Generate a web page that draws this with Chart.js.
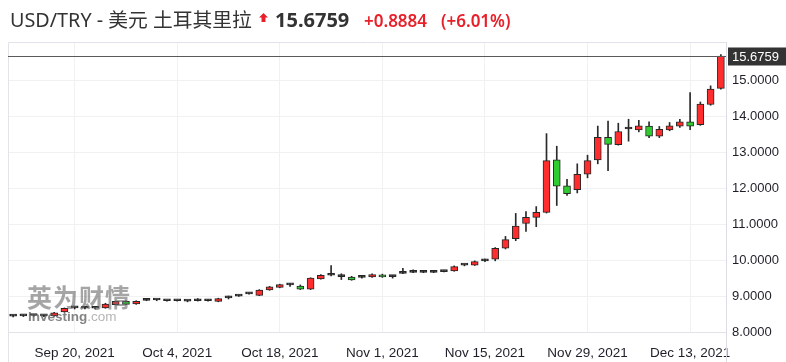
<!DOCTYPE html>
<html>
<head>
<meta charset="utf-8">
<script src="https://cdn.jsdelivr.net/npm/chart.js@4.4.0/dist/chart.umd.min.js"></script>
<style>
  body { margin: 0; background: #fff; }
  #wrap { position: relative; width: 786px; height: 362px; overflow: hidden; }
  #chart { position: absolute; left: 0; top: 0; }
  .hd { position: absolute; white-space: nowrap; font-family: "Noto Sans", "Noto Sans CJK SC", sans-serif; line-height: 1; }
  #title { left: 10px; top: 10px; font-size: 19.8px; color: #333; }
  #arrow { position: absolute; left: 259px; top: 13px; width: 9px; height: 9px; background: #e8202a;
           clip-path: polygon(50% 0, 100% 50%, 72% 50%, 72% 100%, 28% 100%, 28% 50%, 0 50%); }
  #last { left: 275px; top: 10px; font-size: 20px; font-weight: bold; color: #333; }
  #chg { left: 364px; top: 12px; font-size: 17px; font-weight: 600; color: #e8202a; }
  #pct { left: 441px; top: 12px; font-size: 17px; font-weight: 600; color: #e8202a; }
  #wm1 { left: 27px; top: 284px; font-size: 25px; font-weight: bold; letter-spacing: 1px; color: rgba(105,105,105,0.6); font-family: "Noto Sans CJK SC", sans-serif; }
  #wm2 { left: 28px; top: 310px; font-size: 13.5px; font-weight: bold; color: rgba(90,90,90,0.75); font-family: "Liberation Sans", sans-serif; }
  #wm2 span { font-weight: normal; color: rgba(150,150,150,0.7); }
</style>
</head>
<body>
<div id="wrap">
  <canvas id="chart" width="786" height="362"></canvas>
  <div class="hd" id="title">USD/TRY - 美元 土耳其里拉</div>
  <div id="arrow"></div>
  <div class="hd" id="last">15.6759</div>
  <div class="hd" id="chg">+0.8884</div>
  <div class="hd" id="pct">(+6.01%)</div>
  <div class="hd" id="wm1">英为财情</div>
  <div class="hd" id="wm2">Investing<span>.com</span></div>
</div>
<script>
// daily candles, Sep 10 - Dec 16 2021
const dates = [
  'Sep 10, 2021',
  'Sep 13, 2021', 'Sep 14, 2021', 'Sep 15, 2021', 'Sep 16, 2021', 'Sep 17, 2021',
  'Sep 20, 2021', 'Sep 21, 2021', 'Sep 22, 2021', 'Sep 23, 2021', 'Sep 24, 2021',
  'Sep 27, 2021', 'Sep 28, 2021', 'Sep 29, 2021', 'Sep 30, 2021', 'Oct 1, 2021',
  'Oct 4, 2021', 'Oct 5, 2021', 'Oct 6, 2021', 'Oct 7, 2021', 'Oct 8, 2021',
  'Oct 11, 2021', 'Oct 12, 2021', 'Oct 13, 2021', 'Oct 14, 2021', 'Oct 15, 2021',
  'Oct 18, 2021', 'Oct 19, 2021', 'Oct 20, 2021', 'Oct 21, 2021', 'Oct 22, 2021',
  'Oct 25, 2021', 'Oct 26, 2021', 'Oct 27, 2021', 'Oct 28, 2021', 'Oct 29, 2021',
  'Nov 1, 2021', 'Nov 2, 2021', 'Nov 3, 2021', 'Nov 4, 2021', 'Nov 5, 2021',
  'Nov 8, 2021', 'Nov 9, 2021', 'Nov 10, 2021', 'Nov 11, 2021', 'Nov 12, 2021',
  'Nov 15, 2021', 'Nov 16, 2021', 'Nov 17, 2021', 'Nov 18, 2021', 'Nov 19, 2021',
  'Nov 22, 2021', 'Nov 23, 2021', 'Nov 24, 2021', 'Nov 25, 2021', 'Nov 26, 2021',
  'Nov 29, 2021', 'Nov 30, 2021', 'Dec 1, 2021', 'Dec 2, 2021', 'Dec 3, 2021',
  'Dec 6, 2021', 'Dec 7, 2021', 'Dec 8, 2021', 'Dec 9, 2021', 'Dec 10, 2021',
  'Dec 13, 2021', 'Dec 14, 2021', 'Dec 15, 2021', 'Dec 16, 2021'
];
const opens = [
  8.44,
  8.45, 8.46, 8.45, 8.45, 8.56,
  8.67, 8.66, 8.66, 8.67, 8.76,
  8.85, 8.78, 8.88, 8.89, 8.87,
  8.87, 8.86, 8.87, 8.87, 8.85,
  8.95, 9.00, 9.06, 9.02, 9.17,
  9.24, 9.31, 9.28, 9.19, 9.48,
  9.58, 9.54, 9.53, 9.52, 9.53,
  9.59, 9.54, 9.63, 9.66, 9.66,
  9.66, 9.68, 9.70, 9.86, 9.86,
  9.98, 10.03, 10.33, 10.60, 11.02,
  11.19, 11.33, 12.79, 12.07, 11.96,
  12.39, 12.79, 13.42, 13.21, 13.65,
  13.62, 13.73, 13.45, 13.62, 13.73,
  13.85, 13.77, 14.33, 14.78
];
const highs = [
  8.47,
  8.48, 8.48, 8.47, 8.55, 8.67,
  8.70, 8.69, 8.69, 8.80, 8.86,
  8.87, 8.87, 8.91, 8.91, 8.89,
  8.89, 8.88, 8.93, 8.90, 8.94,
  9.00, 9.03, 9.09, 9.18, 9.27,
  9.33, 9.35, 9.31, 9.51, 9.60,
  9.85, 9.62, 9.55, 9.58, 9.62,
  9.61, 9.57, 9.77, 9.73, 9.69,
  9.69, 9.70, 9.84, 9.89, 9.98,
  10.03, 10.35, 10.66, 11.30, 11.35,
  11.49, 13.52, 13.17, 12.25, 12.68,
  12.92, 13.73, 13.87, 13.81, 13.92,
  13.89, 13.85, 13.72, 13.83, 13.92,
  14.66, 14.40, 14.85, 15.72
];
const lows = [
  8.42,
  8.43, 8.44, 8.43, 8.44, 8.55,
  8.64, 8.64, 8.64, 8.66, 8.75,
  8.76, 8.77, 8.87, 8.87, 8.86,
  8.86, 8.84, 8.86, 8.86, 8.84,
  8.92, 8.99, 9.05, 9.01, 9.16,
  9.23, 9.27, 9.18, 9.18, 9.47,
  9.56, 9.46, 9.44, 9.50, 9.52,
  9.52, 9.50, 9.62, 9.65, 9.65,
  9.65, 9.67, 9.69, 9.84, 9.85,
  9.96, 9.98, 10.31, 10.54, 10.80,
  10.93, 11.31, 11.52, 11.80, 11.87,
  12.29, 12.68, 12.49, 13.20, 13.31,
  13.57, 13.41, 13.41, 13.60, 13.69,
  13.63, 13.75, 14.31, 14.76
];
const closes = [
  8.45,
  8.45, 8.46, 8.45, 8.53, 8.66,
  8.67, 8.66, 8.67, 8.78, 8.85,
  8.77, 8.85, 8.89, 8.89, 8.87,
  8.87, 8.86, 8.87, 8.87, 8.93,
  8.96, 9.00, 9.07, 9.17, 9.26,
  9.32, 9.31, 9.19, 9.50, 9.58,
  9.58, 9.54, 9.45, 9.52, 9.60,
  9.53, 9.54, 9.63, 9.66, 9.66,
  9.66, 9.68, 9.82, 9.86, 9.96,
  9.98, 10.33, 10.57, 10.95, 11.19,
  11.33, 12.77, 12.06, 11.85, 12.39,
  12.77, 13.42, 13.22, 13.58, 13.66,
  13.74, 13.45, 13.64, 13.74, 13.85,
  13.73, 14.34, 14.76, 15.6759
];
const tickDates = ['Sep 20, 2021', 'Oct 4, 2021', 'Oct 18, 2021', 'Nov 1, 2021', 'Nov 15, 2021', 'Nov 29, 2021', 'Dec 13, 2021'];
const lastPrice = 15.6759;

const UP = '#ff2d2d', DOWN = '#2ecc2e', EDGE = '#262626';

const bodyColors = dates.map((d, i) => {
  if (Math.abs(closes[i] - opens[i]) < 0.015) return EDGE;
  return closes[i] >= opens[i] ? UP : DOWN;
});

// frame, last price line and price box
const overlay = {
  id: 'overlay',
  beforeDatasetsDraw(chart) {
    const { ctx, chartArea: a } = chart;
    ctx.save();
    ctx.strokeStyle = '#e2e2ea';
    ctx.lineWidth = 1;
    ctx.beginPath();
    ctx.moveTo(a.left + 0.5, 362);
    ctx.lineTo(a.left + 0.5, a.top + 0.5);
    ctx.lineTo(a.right + 0.5, a.top + 0.5);
    ctx.moveTo(a.left, a.bottom + 0.5);
    ctx.lineTo(a.right, a.bottom + 0.5);
    ctx.stroke();
    ctx.strokeStyle = '#dcdce6';
    ctx.beginPath();
    ctx.moveTo(a.right + 0.5, a.bottom);
    ctx.lineTo(a.right + 0.5, 362);
    ctx.stroke();
    ctx.restore();
  },
  afterDraw(chart) {
    const { ctx, chartArea: a, scales } = chart;
    const y = Math.round(scales.y.getPixelForValue(lastPrice)) + 0.5;
    ctx.save();
    ctx.strokeStyle = '#5a5a5a';
    ctx.lineWidth = 1;
    ctx.beginPath();
    ctx.moveTo(a.left, y);
    ctx.lineTo(a.right, y);
    ctx.stroke();
    ctx.fillStyle = '#333';
    ctx.fillRect(a.right + 2, y - 9, 786 - a.right - 2, 18);
    ctx.fillStyle = '#fff';
    ctx.font = '13px "Liberation Sans", Arial, sans-serif';
    ctx.textBaseline = 'middle';
    ctx.fillText(lastPrice.toFixed(4), a.right + 6, y + 0.5);
    ctx.restore();
  }
};

new Chart(document.getElementById('chart'), {
  type: 'bar',
  data: {
    labels: dates,
    datasets: [{
      label: 'body',
      data: dates.map((d, i) => [opens[i], closes[i]]),
      backgroundColor: bodyColors,
      borderColor: EDGE,
      borderWidth: 1,
      borderSkipped: false,
      barThickness: 7,
      minBarLength: 2,
      grouped: false,
      order: 0
    }, {
      label: 'wick',
      data: dates.map((d, i) => [lows[i], highs[i]]),
      backgroundColor: '#2a2a2a',
      borderWidth: 0,
      barThickness: 1,
      grouped: false,
      order: 1
    }]
  },
  options: {
    responsive: false,
    animation: false,
    layout: { padding: { top: 42, left: 8, right: 0, bottom: 0 } },
    plugins: {
      legend: { display: false },
      tooltip: { enabled: false }
    },
    scales: {
      x: {
        offset: true,
        grid: { offset: false, color: '#f1f1f4', drawTicks: false },
        border: { display: false },
        ticks: {
          autoSkip: false,
          maxRotation: 0,
          padding: 13,
          color: '#1e1e28',
          font: { family: '"Liberation Sans", Arial, sans-serif', size: 13.5 },
          callback: function (v) {
            const l = this.getLabelForValue(v);
            return tickDates.includes(l) ? l : null;
          }
        },
        afterFit(s) { s.height = 30; }
      },
      y: {
        position: 'right',
        min: 8,
        max: 16.07,
        grid: { color: '#f1f1f4', drawTicks: false },
        border: { display: true, color: '#dcdce6' },
        ticks: {
          stepSize: 1,
          padding: 6,
          color: '#1e1e28',
          font: { family: '"Liberation Sans", Arial, sans-serif', size: 13 },
          callback: v => (Number.isInteger(v) && v <= 15) ? v.toFixed(4) : null
        },
        afterFit(s) { s.width = 60; }
      }
    }
  },
  plugins: [overlay]
});
</script>
</body>
</html>
